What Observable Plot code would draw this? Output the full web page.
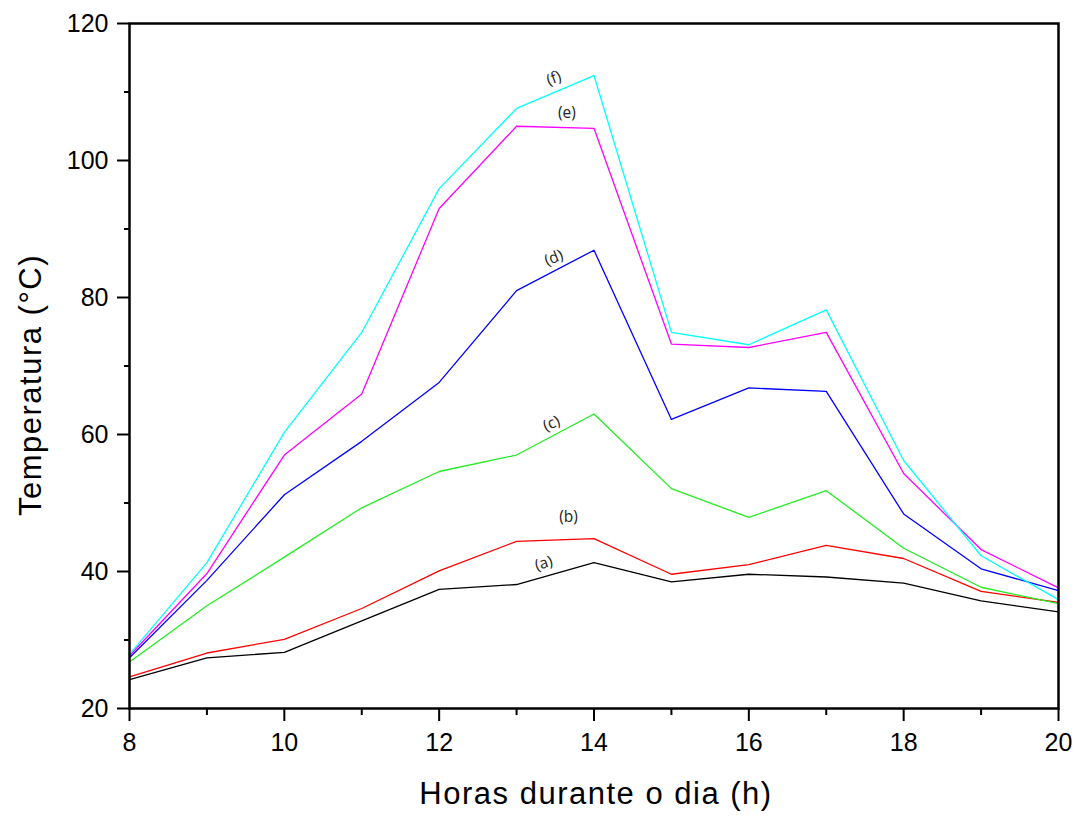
<!DOCTYPE html>
<html>
<head>
<meta charset="utf-8">
<script src="https://cdn.jsdelivr.net/npm/d3@7"></script>
<script src="https://cdn.jsdelivr.net/npm/@observablehq/plot@0.6"></script>
<style>
  html, body { margin: 0; padding: 0; background: #fff; }
</style>
</head>
<body>
<div id="chart"></div>
<script>
const hours = [8, 9, 10, 11, 12, 13, 14, 15, 16, 17, 18, 19, 20];
const seriesA = [24.2, 27.4, 28.2, 32.8, 37.4, 38.1, 41.3, 38.5, 39.6, 39.2, 38.3, 35.7, 34.1];
const seriesB = [24.6, 28.1, 30.1, 34.6, 40.1, 44.4, 44.8, 39.6, 41.0, 43.8, 41.9, 37.1, 35.5];
const seriesC = [26.8, 35.0, 42.1, 49.3, 54.6, 57.0, 63.0, 52.1, 47.9, 51.8, 43.4, 37.7, 35.3];
const seriesD = [27.4, 38.7, 51.2, 59.0, 67.6, 81.0, 86.9, 62.2, 66.8, 66.3, 48.4, 40.4, 37.2];
const seriesE = [27.7, 39.7, 57.0, 65.9, 93.0, 105.0, 104.7, 73.2, 72.7, 74.9, 54.3, 43.2, 37.6];
const seriesF = [27.9, 41.3, 60.3, 74.9, 95.9, 107.6, 112.4, 74.9, 73.1, 78.2, 56.2, 42.3, 35.9];
const seriesNames = ["(a)", "(b)", "(c)", "(d)", "(e)", "(f)"];
const seriesColors = ["#000000", "#ff0000", "#22ee22", "#0000ff", "#ff00ff", "#00ffff"];
const labelHour = [13.35, 13.67, 13.45, 13.48, 13.65, 13.48];
const labelTemp = [41.2, 47.9, 61.6, 85.8, 107.0, 112.0];
const labelAngle = [-17, 0, -25, -22, 0, -20];
const xTicks = [8, 10, 12, 14, 16, 18, 20];
const xMinorTicks = [9, 11, 13, 15, 17, 19];
const yTicks = [20, 40, 60, 80, 100, 120];
const yMinorTicks = [30, 50, 70, 90, 110];
const xTitle = "Horas durante o dia (h)";
const yTitle = "Temperatura (°C)";

const allSeries = [seriesA, seriesB, seriesC, seriesD, seriesE, seriesF];
const rows = [];
allSeries.forEach((vals, i) => {
  vals.forEach((v, j) => rows.push({hour: hours[j], temp: v, series: seriesNames[i]}));
});
const labels = seriesNames.map((n, i) => ({name: n, hour: labelHour[i], temp: labelTemp[i], angle: labelAngle[i]}));

const chart = Plot.plot({
  width: 1080,
  height: 816,
  marginLeft: 129,
  marginRight: 22,
  marginTop: 23,
  marginBottom: 108,
  style: {background: "#fff", color: "#000", fontFamily: "'Liberation Sans', Arial, sans-serif"},
  x: {domain: [8, 20]},
  y: {domain: [20, 120]},
  color: {domain: seriesNames, range: seriesColors},
  marks: [
    Plot.line(rows, {x: "hour", y: "temp", z: "series", stroke: "series", strokeWidth: 1.3}),
    Plot.text(labels, {x: "hour", y: "temp", text: "name", rotate: "angle", fontSize: 15.5, fill: "#222", fontFamily: "'Open Sans', sans-serif"}),
    Plot.frame({stroke: "#000", strokeWidth: 2.5}),
    Plot.axisX(xTicks, {tickSize: 13, tickPadding: 12, fontSize: 25, strokeWidth: 2, label: null}),
    Plot.axisX(xMinorTicks, {tickSize: 7, strokeWidth: 2, fill: "none", label: null}),
    Plot.axisY(yTicks, {tickSize: 12, tickPadding: 9, fontSize: 25, strokeWidth: 2, label: null}),
    Plot.axisY(yMinorTicks, {tickSize: 5, strokeWidth: 2, fill: "none", label: null}),
    Plot.text([xTitle], {frameAnchor: "bottom", textAnchor: "middle", lineAnchor: "middle", dx: 2, dy: 86, fontSize: 31, className: "xtitle"}),
    Plot.text([yTitle], {frameAnchor: "left", textAnchor: "middle", lineAnchor: "middle", rotate: -90, dx: -98, dy: 19, fontSize: 31, className: "ytitle"})
  ]
});
d3.select(chart).selectAll(".xtitle text, .ytitle text").style("letter-spacing", "1.5px");
document.getElementById("chart").appendChild(chart);
</script>
</body>
</html>
